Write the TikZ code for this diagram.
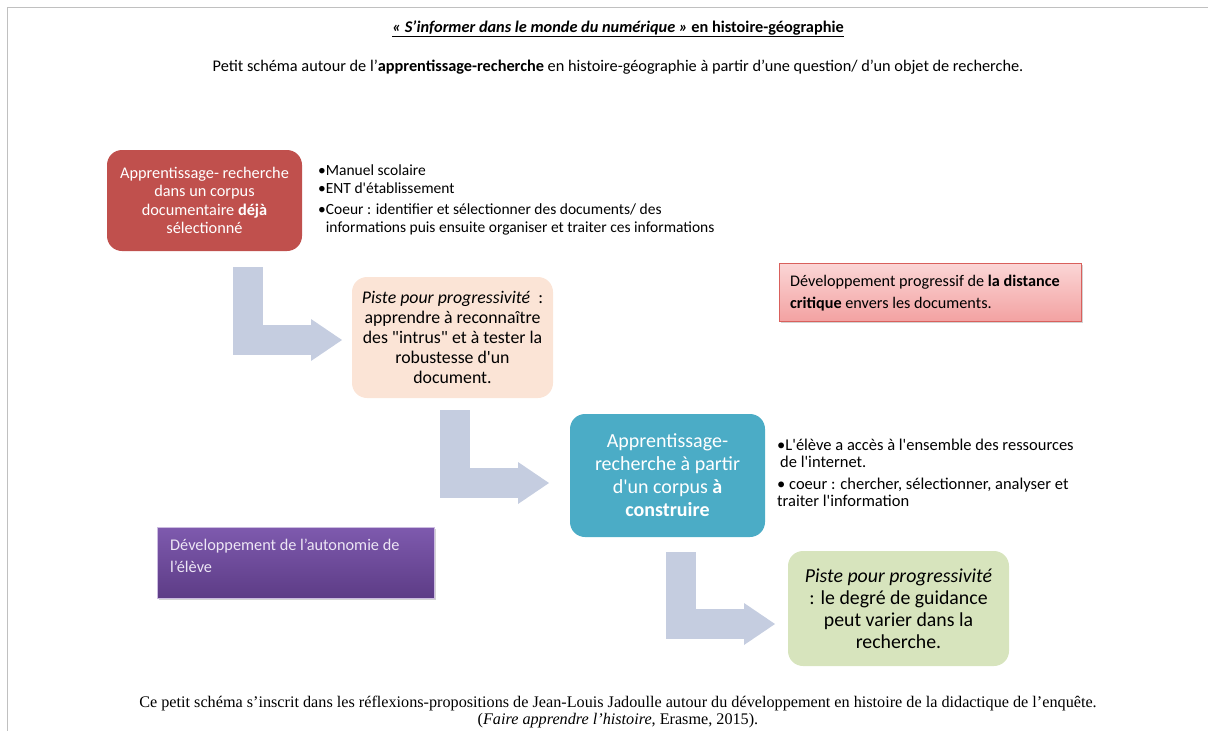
\documentclass[tikz,border=0pt]{standalone}
\usepackage{fontspec}
\setmainfont{Carlito}[Ligatures=TeXOff]
\newfontfamily\footfont{Liberation Serif}
\usetikzlibrary{arrows.meta,shadows}
\definecolor{boxred}{HTML}{C0504D}
\definecolor{boxpeach}{HTML}{FBE4D6}
\definecolor{boxteal}{HTML}{4BACC6}
\definecolor{boxgreen}{HTML}{D7E4BD}
\definecolor{arrowblue}{HTML}{C5CDE0}
\definecolor{pinktop}{HTML}{FBD6D6}
\definecolor{pinkbot}{HTML}{F3A2A2}
\definecolor{pinkline}{HTML}{D9605C}
\definecolor{purtop}{HTML}{7E5AAE}
\definecolor{purbot}{HTML}{5D3C86}
\definecolor{purtext}{HTML}{EDE6F5}
\definecolor{framegray}{HTML}{C0C0C0}
\newcommand{\sz}[2]{\fontsize{#1}{#2}\selectfont}

\begin{document}
\begin{tikzpicture}[x=1pt,y=-1pt]
  \tikzstyle{stage}=[rounded corners=15pt, inner sep=0pt, align=center]
  \tikzstyle{bullets}=[anchor=north west, align=left, inner sep=0pt]
  \tikzstyle{bendarrow}=[draw=arrowblue, line width=30pt, line join=miter,
    -{Triangle[length=31pt,width=42pt,line width=0pt,fill=arrowblue]}]
  \useasboundingbox (0,0) rectangle (1208,731);
  \draw[framegray, line width=1.2pt] (7.5,731) -- (7.5,7.5) -- (1208,7.5);

  % titre
  \node[font=\sz{16.3}{19}] (titre) at (618,29) {\underline{\textbf{\textit{« S’informer dans le monde du numérique »}} \textbf{en histoire-géographie}}};
  \node[font=\sz{16.3}{19}] (soustitre) at (618,67) {Petit schéma autour de l’\textbf{apprentissage-recherche} en histoire-géographie à partir d’une question/ d’un objet de recherche.};

  % etape 1
  \node[stage, fill=boxred, text=white, minimum width=195pt, minimum height=101pt, font=\sz{16.3}{18.5}] (corpus) at (204.5,200.5)
    {Apprentissage- recherche\\dans un corpus\\documentaire \textbf{déjà}\\sélectionné};
  \node[bullets, font=\sz{15.5}{18}] (outils) at (318,165)
    {•Manuel scolaire\\•ENT d'établissement\\[3pt]•Coeur : identifier et sélectionner des documents/ des\\\phantom{•}informations puis ensuite organiser et traiter ces informations};

  \node[stage, fill=boxpeach, minimum width=201pt, minimum height=121pt, font=\sz{17.8}{20}] (piste1) at (452.5,337.5)
    {\textit{Piste pour progressivité}~ :\\apprendre à reconnaître\\des "intrus" et à tester la\\robustesse d'un\\document.};

  \node[minimum width=302pt, minimum height=58pt, inner sep=0pt,
    top color=pinktop, bottom color=pinkbot, draw=pinkline, line width=0.8pt,
    drop shadow={shadow xshift=2pt, shadow yshift=-2pt, opacity=0.35}] (distance) at (930,292) {};
  \node[bullets, font=\sz{16.2}{22}] (distancetxt) at (790,275)
    {Développement progressif de \textbf{la distance}\\\textbf{critique} envers les documents.};

  % etape 2
  \node[stage, fill=boxteal, text=white, minimum width=195pt, minimum height=123pt, font=\sz{20}{23}] (construire) at (667.5,475.5)
    {Apprentissage-\\recherche à partir\\d'un corpus \textbf{à}\\\textbf{construire}};
  \node[bullets, font=\sz{16.5}{17}] (internet) at (777,439)
    {•L'élève a accès à l'ensemble des ressources\\\hspace*{3pt}de l'internet.\\[5pt]• coeur : chercher, sélectionner, analyser et\\traiter l'information};

  \node[minimum width=277pt, minimum height=71pt, inner sep=0pt,
    top color=purtop, bottom color=purbot, draw=purtext!70!purtop, line width=0.8pt,
    drop shadow={shadow xshift=2pt, shadow yshift=-2pt, opacity=0.35}] (autonomie) at (295.5,562.5) {};
  \node[bullets, text=purtext, font=\sz{16.3}{22}] (autonomietxt) at (170,539)
    {Développement de l’autonomie de\\l’élève};

  \node[stage, fill=boxgreen, minimum width=221pt, minimum height=115pt, font=\sz{19.8}{22}] (piste2) at (898.5,608.5)
    {\textit{Piste pour progressivité}\\: le degré de guidance\\peut varier dans la\\recherche.};

  % fleches
  \coordinate (a1) at (247.5,267);
  \coordinate (b1) at (342,340);
  \coordinate (a2) at (455,410);
  \coordinate (b2) at (549,483);
  \coordinate (a3) at (680.5,552);
  \coordinate (b3) at (775,624);
  \draw[bendarrow] (a1) |- (b1);
  \draw[bendarrow] (a2) |- (b2);
  \draw[bendarrow] (a3) |- (b3);

  % source
  \node[align=center, font=\footfont\sz{16.2}{17}] (source) at (618,712)
    {Ce petit schéma s’inscrit dans les réflexions-propositions de Jean-Louis Jadoulle autour du développement en histoire de la didactique de l’enquête.\\(\textit{Faire apprendre l’histoire}, Erasme, 2015).};
\end{tikzpicture}
\end{document}
